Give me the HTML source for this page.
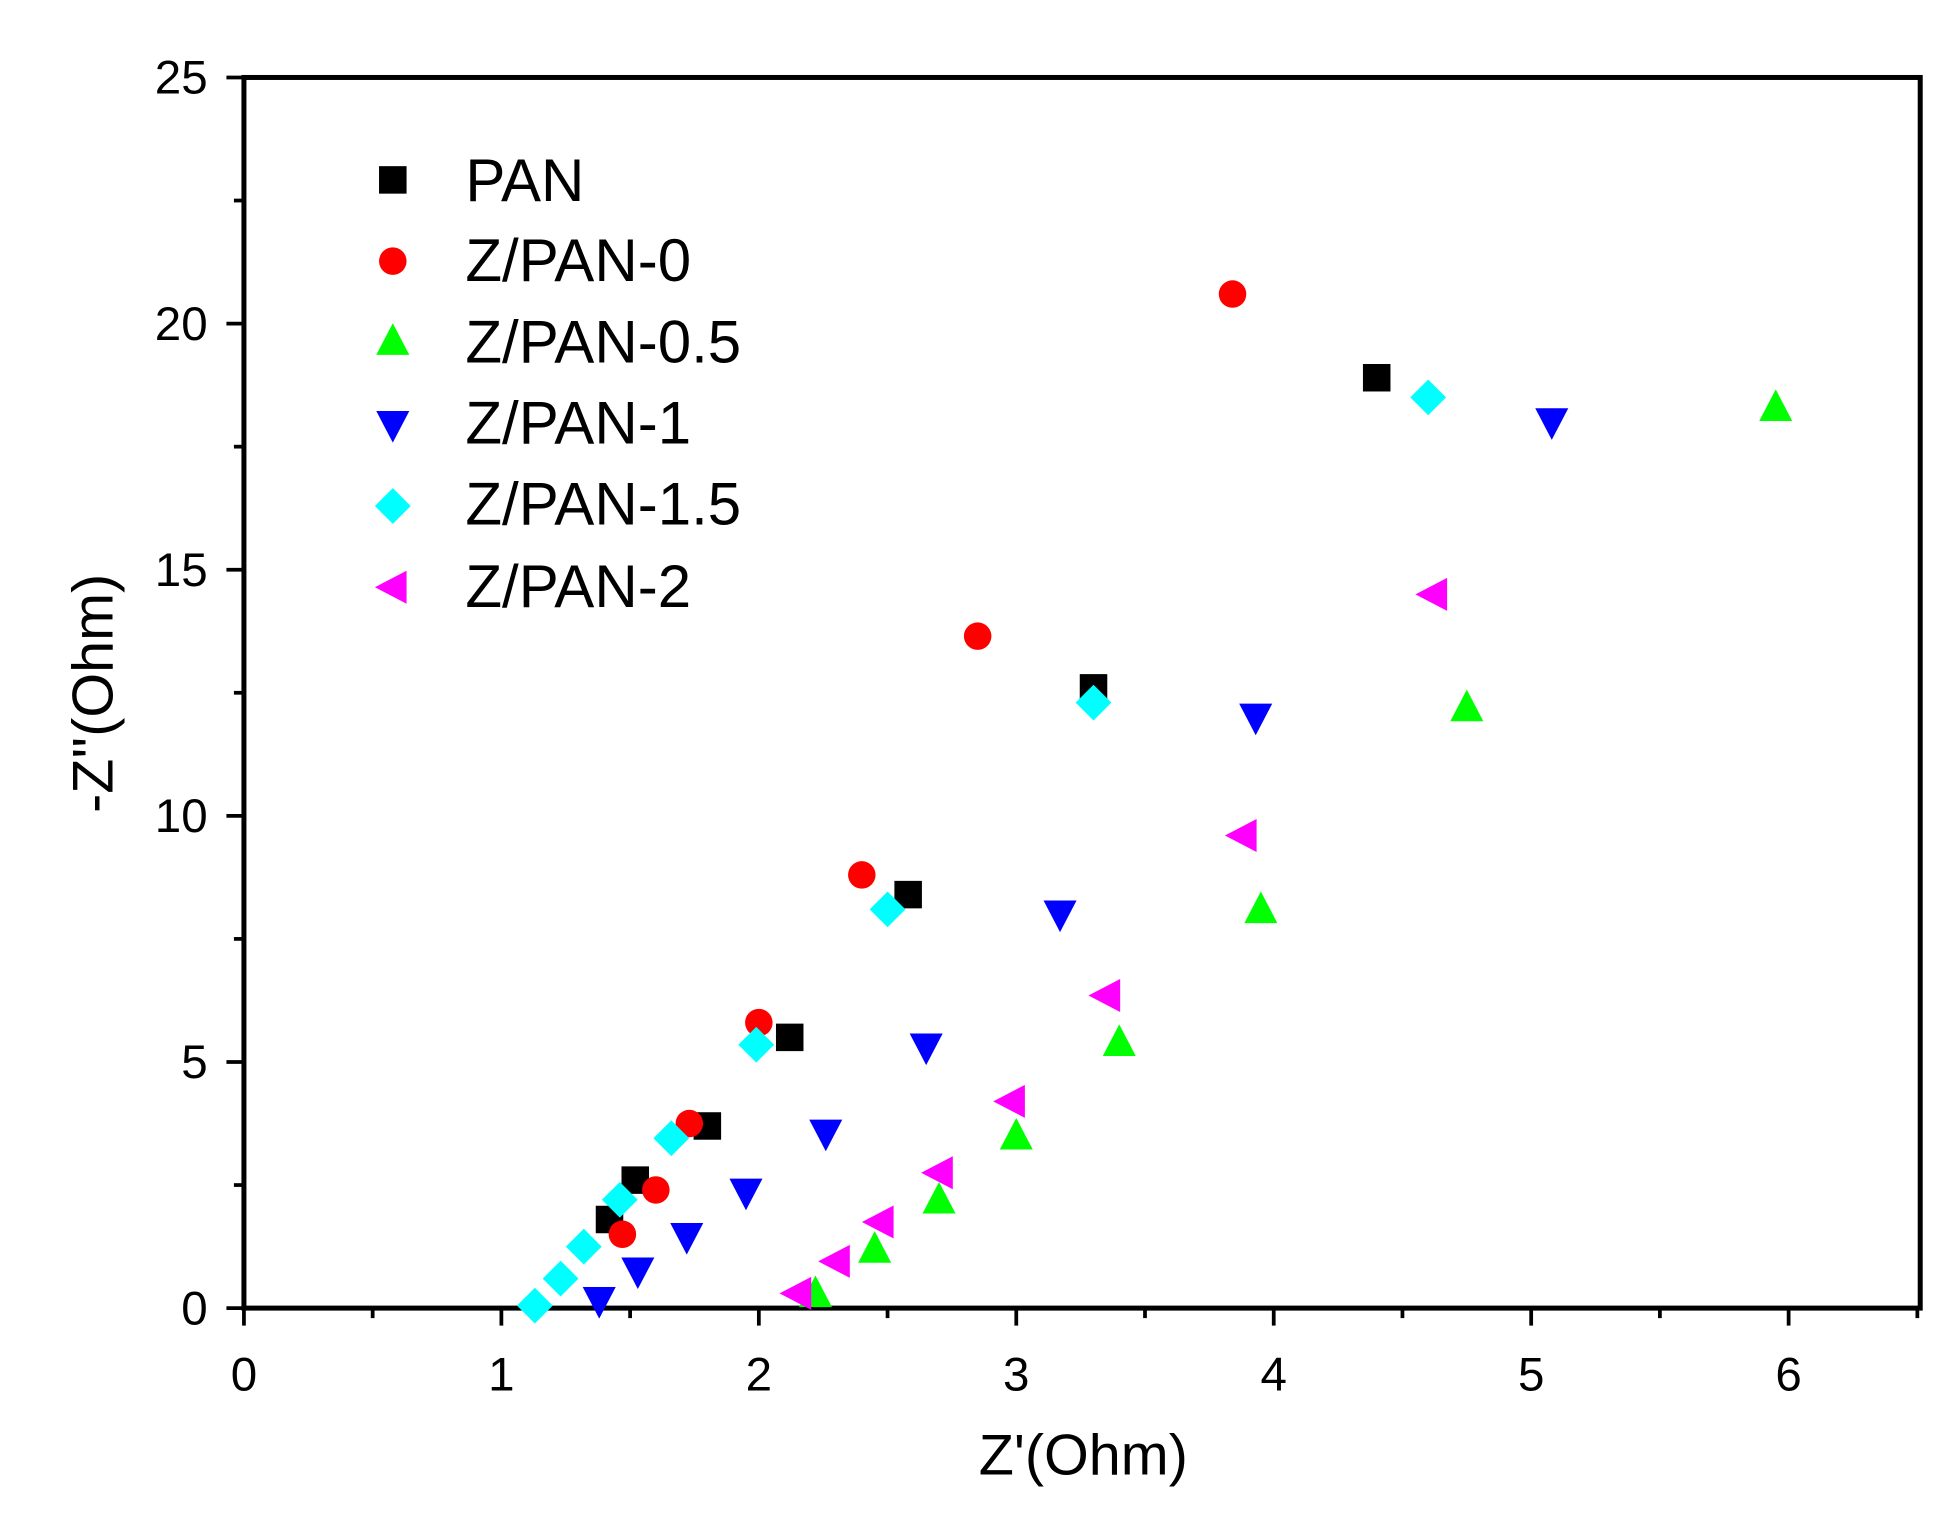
<!DOCTYPE html>
<html><head><style>body{margin:0;background:#fff}svg{display:block}</style></head>
<body>
<svg id="s" width="1959" height="1528" viewBox="0 0 1566 1223" preserveAspectRatio="none" xmlns="http://www.w3.org/2000/svg" font-family="Liberation Sans, sans-serif">
<rect x="195" y="62" width="1340" height="985" fill="none" stroke="#000" stroke-width="4"/>
<g id="ticks" stroke="#000" stroke-width="3"></g>
<g id="labels" font-size="38" fill="#000"></g>
<text x="866" y="1180" font-size="46" text-anchor="middle">Z'(Ohm)</text>
<text transform="translate(90,555) rotate(-90)" font-size="46" text-anchor="middle">-Z''(Ohm)</text>
<g id="pts"></g>
<g font-size="48" fill="#000">
<text x="372" y="161">PAN</text>
<text x="372" y="225">Z/PAN-0</text>
<text x="372" y="290">Z/PAN-0.5</text>
<text x="372" y="355">Z/PAN-1</text>
<text x="372" y="420">Z/PAN-1.5</text>
<text x="372" y="486">Z/PAN-2</text>
</g>
</svg>
<script>
var NS="http://www.w3.org/2000/svg";
function X(v){return 195+v*205.8}function Y(v){return 1047-v*39.4}
function el(t,a,p){var e=document.createElementNS(NS,t);for(var k in a)e.setAttribute(k,a[k]);document.getElementById(p).appendChild(e);return e}
for(var i=0;i<=13;i++){var x=X(i*0.5);el('line',{x1:x,x2:x,y1:1047,y2:1047+(i%2?8:14)},'ticks');
 if(i%2==0){var t=el('text',{x:x,y:1113,'text-anchor':'middle'},'labels');t.textContent=i/2;}}
for(var i=0;i<=10;i++){var y=Y(i*2.5);el('line',{x1:195,x2:195-(i%2?8:14),y1:y,y2:y},'ticks');
 if(i%2==0){var t=el('text',{x:166,y:y+13,'text-anchor':'end'},'labels');t.textContent=i*2.5;}}
var r=11;
function mk(type,col,cx,cy){
 if(type=='s')el('rect',{x:cx-r,y:cy-r,width:2*r,height:2*r,fill:col},'pts');
 else if(type=='c')el('circle',{cx:cx,cy:cy,r:r,fill:col},'pts');
 else{var p;
  if(type=='u')p=[[cx,cy-r*1.3],[cx-r*1.2,cy+r],[cx+r*1.2,cy+r]];
  if(type=='d')p=[[cx,cy+r*1.3],[cx-r*1.2,cy-r],[cx+r*1.2,cy-r]];
  if(type=='l')p=[[cx-r*1.3,cy],[cx+r,cy-r*1.2],[cx+r,cy+r*1.2]];
  if(type=='m')p=[[cx,cy-r*1.3],[cx+r*1.3,cy],[cx,cy+r*1.3],[cx-r*1.3,cy]];
  el('polygon',{points:p.map(function(q){return q.join(',')}).join(' '),fill:col},'pts');}
}
var S=[
['s','#000',[[1.42,1.8],[1.52,2.6],[1.8,3.7],[2.12,5.5],[2.58,8.4],[3.3,12.6],[4.4,18.9]],144],
['c','#f00',[[1.47,1.5],[1.6,2.4],[1.73,3.75],[2.0,5.8],[2.4,8.8],[2.85,13.65],[3.84,20.6]],209],
['u','#0f0',[[2.22,0.3],[2.45,1.2],[2.7,2.2],[3.0,3.5],[3.4,5.4],[3.95,8.1],[4.75,12.2],[5.95,18.3]],273],
['d','#00f',[[1.38,0.15],[1.53,0.75],[1.72,1.45],[1.95,2.35],[2.26,3.55],[2.65,5.3],[3.17,8.0],[3.93,12.0],[5.08,18.0]],340],
['m','#0ff',[[1.13,0.05],[1.23,0.6],[1.32,1.25],[1.46,2.2],[1.66,3.45],[1.99,5.35],[2.5,8.1],[3.3,12.3],[4.6,18.5]],405],
['l','#f0f',[[2.15,0.3],[2.3,0.95],[2.47,1.75],[2.7,2.75],[2.98,4.2],[3.35,6.35],[3.88,9.6],[4.62,14.5]],470]];
S.forEach(function(s){s[2].forEach(function(d){mk(s[0],s[1],X(d[0]),Y(d[1]))});mk(s[0],s[1],314,s[3]);});
</script>
</body></html>
